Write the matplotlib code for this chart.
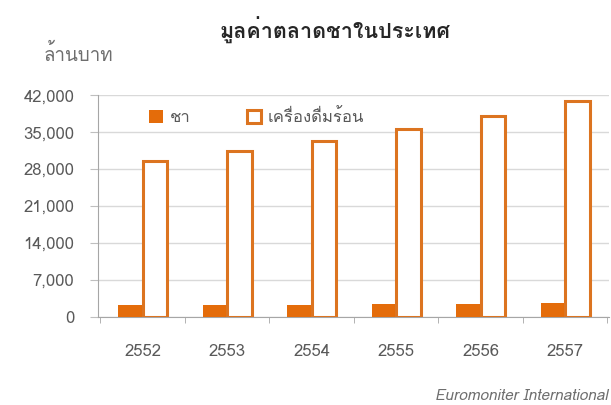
import matplotlib
matplotlib.use('Agg')
import matplotlib.pyplot as plt
from matplotlib import font_manager
from matplotlib.ft2font import FT2Font
import numpy as np

years = ['2552', '2553', '2554', '2555', '2556', '2557']
tea = [2200, 2250, 2300, 2350, 2400, 2550]
hot_drinks = [29550, 31400, 33300, 35550, 38000, 40900]
yticks = [0, 7000, 14000, 21000, 28000, 35000, 42000]

title = 'มูลค่าตลาดชาในประเทศ'
unit = 'ล้านบาท'
legend_labels = ['ชา', 'เครื่องดื่มร้อน']
source = 'Euromoniter International'


# find an installed font that has Thai glyphs
def thai_font():
    for f in font_manager.fontManager.ttflist:
        try:
            if 0x0E01 in FT2Font(f.fname).get_charmap():
                return f.name
        except Exception:
            pass
    return 'DejaVu Sans'


fam = [thai_font(), 'DejaVu Sans']
plt.rcParams['font.family'] = fam

orange = '#E46C0A'
grey = '#595959'

fig = plt.figure(figsize=(6.11, 4.05), dpi=100)
ax = fig.add_axes([0.160, 0.218, 0.837, 0.547])

x = np.arange(len(years))
w = 0.29
ax.bar(x - 0.145, tea, w, color=orange, label=legend_labels[0], zorder=3)
ax.bar(x + 0.145, hot_drinks, w, facecolor='white', edgecolor='#DC7420',
       linewidth=2.2, label=legend_labels[1], zorder=3)

ax.set_ylim(0, 42000)
ax.set_yticks(yticks)
ax.set_yticklabels(['{:,}'.format(v) for v in yticks])
ax.set_xlim(-0.53, 5.52)
ax.set_xticks(x)
ax.set_xticklabels(years)
ax.set_xticks(np.arange(-0.5, 6, 1), minor=True)
ax.tick_params(axis='x', which='major', length=0, pad=20, labelsize=12, labelcolor=grey)
ax.tick_params(axis='x', which='minor', length=4, color='#A6A6A6')
ax.tick_params(axis='y', length=6, color='#BFBFBF', labelsize=12, labelcolor=grey, pad=11)

ax.grid(axis='y', color='#D9D9D9', linewidth=1, zorder=0)
for s in ['top', 'right']:
    ax.spines[s].set_visible(False)
for s in ['left', 'bottom']:
    ax.spines[s].set_color('#A6A6A6')

ax.legend(loc='upper left', bbox_to_anchor=(0.07, 1.005), ncol=2, frameon=False,
          handlelength=0.85, handleheight=0.85, columnspacing=3.4, handletextpad=0.4,
          fontsize=12, labelcolor=grey)

fig.text(335 / 611, 1 - 30 / 405, title, ha='center', va='center',
         fontsize=15.5, fontweight='heavy', color='#262626')
fig.text(78 / 611, 1 - 54 / 405, unit, ha='center', va='center',
         fontsize=13.5, color='#6E6E6E')
fig.text(608 / 611, 1 - 396 / 405, source, ha='right', va='center',
         fontsize=11, style='italic', color='#6E6E6E')

fig.savefig('out.png', dpi=100)
